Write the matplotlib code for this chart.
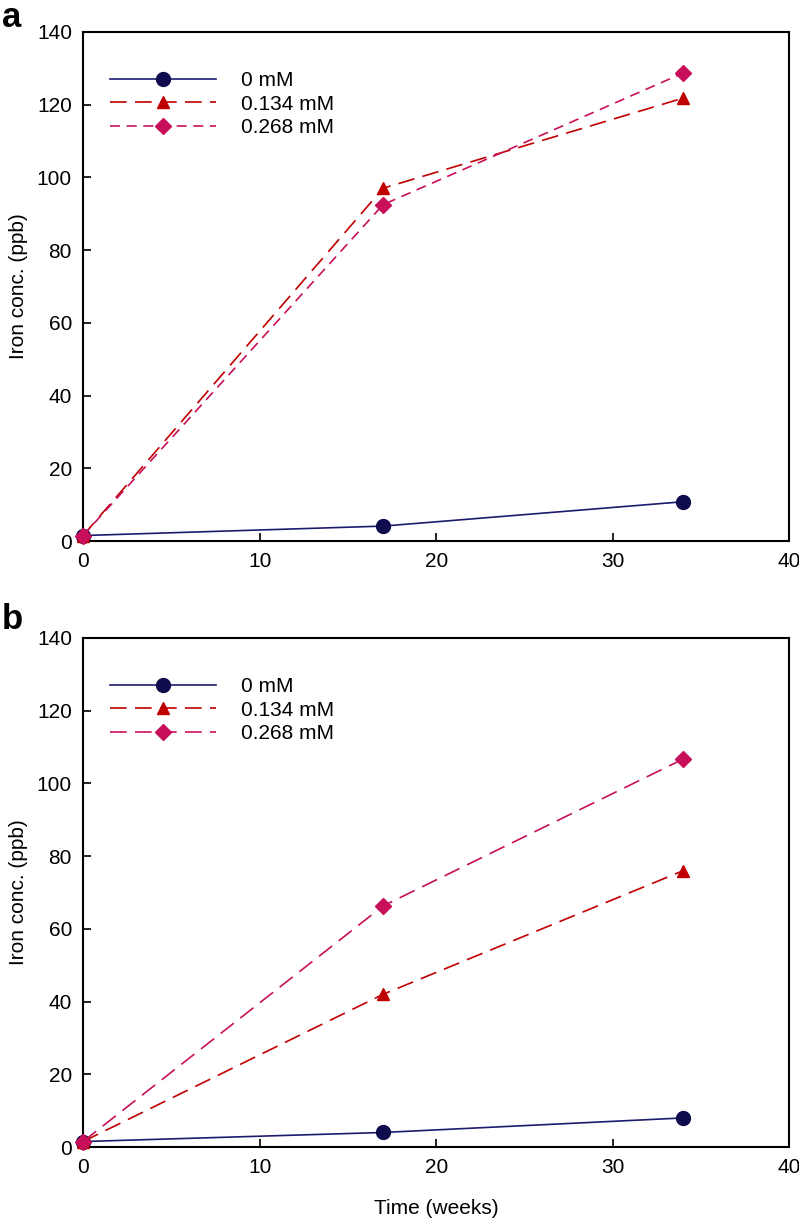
import matplotlib
matplotlib.use("Agg")
import matplotlib.pyplot as plt

plt.rcParams['font.family'] = ['Liberation Sans', 'DejaVu Sans']

weeks = [0, 17, 34]
labels = ['0 mM', '0.134 mM', '0.268 mM']

# panel a
a_0mM = [1.5, 4.1, 10.8]
a_0134mM = [1.5, 97.0, 121.8]
a_0268mM = [1.5, 92.5, 128.7]

# panel b
b_0mM = [1.5, 4.0, 8.0]
b_0134mM = [1.5, 42.0, 76.0]
b_0268mM = [1.5, 66.3, 106.7]

x_ticks = [0, 10, 20, 30, 40]
y_ticks = [0, 20, 40, 60, 80, 100, 120, 140]

navy = '#1c1c6e'
navy_fill = '#0e0c4c'
red = '#c00000'
crimson = '#c8105a'

fig = plt.figure(figsize=(7.99, 12.24), dpi=100)
ax_a = fig.add_axes([0.1039, 0.558, 0.884, 0.416])
ax_b = fig.add_axes([0.1039, 0.0629, 0.884, 0.416])


def draw_panel(ax, s0, s1, s2, dash2):
    ax.plot(weeks, s0, color=navy, lw=1.2, marker='o', ms=10,
            mfc=navy_fill, mec=navy_fill, label=labels[0], clip_on=False, zorder=3)
    ax.plot(weeks, s1, color=red, lw=1.2, dashes=(10, 5), marker='^', ms=9,
            mfc=red, mec=red, label=labels[1], clip_on=False, zorder=4)
    ax.plot(weeks, s2, color=crimson, lw=1.2, dashes=dash2, marker='D', ms=8,
            mfc=crimson, mec=crimson, label=labels[2], clip_on=False, zorder=5)
    ax.set_xlim(0, 40)
    ax.set_ylim(0, 140)
    ax.set_xticks(x_ticks)
    ax.set_yticks(y_ticks)
    ax.tick_params(direction='in', length=6, width=1.2, labelsize=15, pad=8)
    for sp in ax.spines.values():
        sp.set_linewidth(1.5)
    ax.set_ylabel('Iron conc. (ppb)', fontsize=15, labelpad=6)
    ax.legend(loc='upper left', bbox_to_anchor=(0.012, 0.96), frameon=False,
              fontsize=15, handlelength=5.1, handletextpad=1.2, labelspacing=0.22)


draw_panel(ax_a, a_0mM, a_0134mM, a_0268mM, (6, 4))
draw_panel(ax_b, b_0mM, b_0134mM, b_0268mM, (10, 5))
ax_b.set_xlabel('Time (weeks)', fontsize=15, labelpad=16)

fig.text(0.002, 0.986, 'a', fontsize=25, fontweight='bold', va='center')
fig.text(0.002, 0.494, 'b', fontsize=25, fontweight='bold', va='center')

fig.savefig('out.png', dpi=100)
